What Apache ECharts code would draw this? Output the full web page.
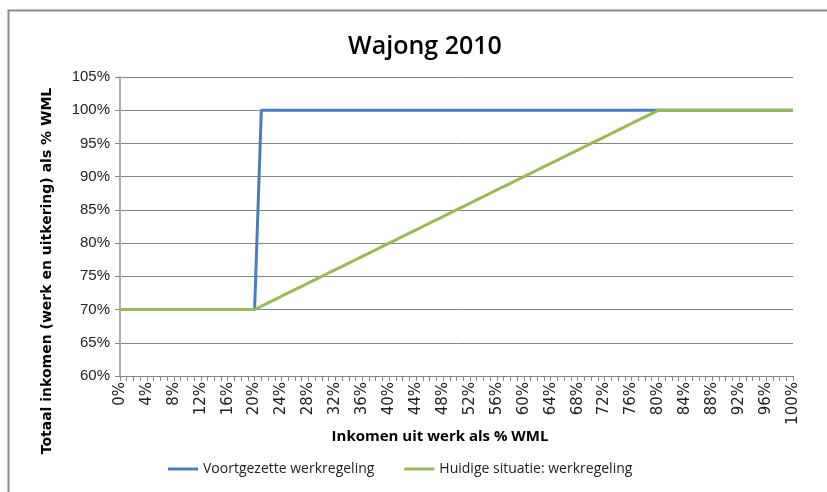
<!DOCTYPE html>
<html><head><meta charset="utf-8">
<script src="https://cdn.jsdelivr.net/npm/echarts@6/dist/echarts.min.js"></script>
<style>html,body{margin:0;padding:0;background:#fff}#c{width:827px;height:492px}</style>
</head><body><div id="c"></div>
<script>
const categories = ["0%","1%","2%","3%","4%","5%","6%","7%","8%","9%","10%","11%","12%","13%","14%","15%","16%","17%","18%","19%","20%","21%","22%","23%","24%","25%","26%","27%","28%","29%","30%","31%","32%","33%","34%","35%","36%","37%","38%","39%","40%","41%","42%","43%","44%","45%","46%","47%","48%","49%","50%","51%","52%","53%","54%","55%","56%","57%","58%","59%","60%","61%","62%","63%","64%","65%","66%","67%","68%","69%","70%","71%","72%","73%","74%","75%","76%","77%","78%","79%","80%","81%","82%","83%","84%","85%","86%","87%","88%","89%","90%","91%","92%","93%","94%","95%","96%","97%","98%","99%","100%"];
const voortgezette = [70,70,70,70,70,70,70,70,70,70,70,70,70,70,70,70,70,70,70,70,70,
  100,100,100,100,100,100,100,100,100,100,100,100,100,100,100,100,100,100,100,100,
  100,100,100,100,100,100,100,100,100,100,100,100,100,100,100,100,100,100,100,100,
  100,100,100,100,100,100,100,100,100,100,100,100,100,100,100,100,100,100,100,100,
  100,100,100,100,100,100,100,100,100,100,100,100,100,100,100,100,100,100,100,100];
const huidige = [70,70,70,70,70,70,70,70,70,70,70,70,70,70,70,70,70,70,70,70,70,
  70.5,71,71.5,72,72.5,73,73.5,74,74.5,75,75.5,76,76.5,77,77.5,78,78.5,79,79.5,80,
  80.5,81,81.5,82,82.5,83,83.5,84,84.5,85,85.5,86,86.5,87,87.5,88,88.5,89,89.5,90,
  90.5,91,91.5,92,92.5,93,93.5,94,94.5,95,95.5,96,96.5,97,97.5,98,98.5,99,99.5,100,
  100,100,100,100,100,100,100,100,100,100,100,100,100,100,100,100,100,100,100,100];
const seriesNames = ["Voortgezette werkregeling","Huidige situatie: werkregeling"];
const title = "Wajong 2010";
const xName = "Inkomen uit werk als % WML";
const yName = "Totaal inkomen (werk en uitkering) als % WML";

const chart = echarts.init(document.getElementById('c'), null, {renderer:'canvas'});
chart.setOption({
  animation:false,
  backgroundColor:'#fff',
  title:{text:title,left:420,top:29,textAlign:'center',
    textStyle:{fontFamily:'Open Sans',fontSize:25,fontWeight:600,color:'#000'}},
  grid:{left:120,right:34,top:77,height:299,containLabel:false},
  legend:{top:457,left:163,itemWidth:30,itemHeight:3,itemGap:30,icon:'rect',
    textStyle:{fontFamily:'Open Sans',fontSize:14,color:'#222'},data:seriesNames},
  xAxis:{type:'category',data:categories,boundaryGap:false,
    axisLine:{lineStyle:{color:'#868686',width:1}},
    axisTick:{interval:0,length:5,lineStyle:{color:'#868686'}},
    axisLabel:{interval:3,rotate:90,fontFamily:'DejaVu Sans',fontSize:15,color:'#222',margin:6}},
  yAxis:{type:'value',min:60,max:105,interval:5,
    axisLine:{show:true,lineStyle:{color:'#b0b0b0',width:2}},
    axisTick:{show:true,length:5,lineStyle:{color:'#868686'}},
    splitLine:{lineStyle:{color:'#868686',width:1}},
    axisLabel:{formatter:'{value}%',fontFamily:'Liberation Sans',fontSize:15,color:'#222',margin:10}},
  graphic:[
    {type:'rect',shape:{x:8.5,y:10.5,width:840,height:500},style:{fill:null,stroke:'#8a8a8a',lineWidth:2},silent:true},
    {type:'text',x:47,y:271,rotation:Math.PI/2,style:{text:yName,align:'center',verticalAlign:'middle',
      font:'bold 14px "DejaVu Sans"',fill:'#000'}},
    {type:'text',x:440,y:437,style:{text:xName,align:'center',verticalAlign:'middle',
      font:'bold 15px "Open Sans"',fill:'#000'}}
  ],
  series:[
    {name:seriesNames[0],type:'line',data:voortgezette,showSymbol:false,symbol:'none',
      lineStyle:{color:'#4a7ebb',width:3},itemStyle:{color:'#4a7ebb'}},
    {name:seriesNames[1],type:'line',data:huidige,showSymbol:false,symbol:'none',
      lineStyle:{color:'#98b954',width:3},itemStyle:{color:'#98b954'}}
  ]
});
</script></body></html>
